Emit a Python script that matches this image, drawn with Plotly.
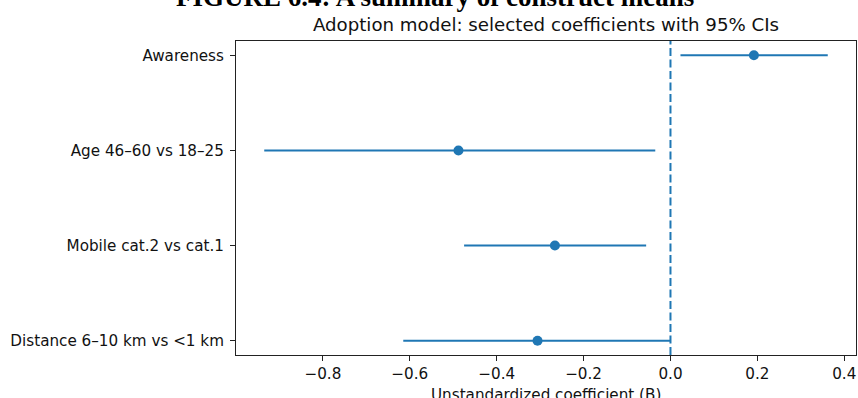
import plotly.graph_objects as go

# ---- data ----
predictors = ["Awareness", "Age 46–60 vs 18–25", "Mobile cat.2 vs cat.1", "Distance 6–10 km vs <1 km"]
coef = [0.192, -0.488, -0.266, -0.306]
ci_low = [0.023, -0.935, -0.475, -0.615]
ci_high = [0.362, -0.035, -0.056, 0.000]
x_ticks = [-0.8, -0.6, -0.4, -0.2, 0.0, 0.2, 0.4]
x_tick_labels = ["−0.8", "−0.6", "−0.4", "−0.2", "0.0", "0.2", "0.4"]

blue = "#1f77b4"
font_fam = "DejaVu Sans, Arial, sans-serif"

err_plus = [h - c for h, c in zip(ci_high, coef)]
err_minus = [c - l for c, l in zip(coef, ci_low)]

fig = go.Figure()
fig.add_trace(go.Scatter(
    x=coef, y=predictors, mode="markers",
    marker=dict(color=blue, size=10, line=dict(width=0)),
    error_x=dict(type="data", symmetric=False, array=err_plus, arrayminus=err_minus,
                 color=blue, thickness=2, width=0),
    showlegend=False, hoverinfo="skip",
))

fig.add_shape(type="line", xref="x", yref="paper", x0=0, x1=0, y0=0, y1=1,
              line=dict(color=blue, width=2, dash="8px,3.5px"), layer="above")

fig.update_layout(
    width=858, height=398,
    margin=dict(l=236, r=2, t=41, b=43, autoexpand=False),
    paper_bgcolor="white", plot_bgcolor="white",
    font=dict(family=font_fam, size=15, color="#111"),
    title=dict(text="Adoption model: selected coefficients with 95% CIs",
               font=dict(family=font_fam, size=18.2, color="#111"),
               x=(546 / 858), xanchor="center", xref="container",
               y=1 - 25 / 398, yanchor="middle", yref="container"),
    xaxis=dict(
        range=[-1.0, 0.427], tickvals=x_ticks, ticktext=x_tick_labels,
        showgrid=False, zeroline=False,
        showline=True, linecolor="#222", linewidth=1, mirror=True,
        ticks="outside", ticklen=5, tickwidth=1, tickcolor="#222",
        tickfont=dict(size=15.2, color="#111"),
    ),
    yaxis=dict(
        type="category", categoryorder="array", categoryarray=predictors,
        range=[3.15, -0.15],
        showgrid=False, zeroline=False,
        showline=True, linecolor="#222", linewidth=1, mirror=True,
        ticks="outside", ticklen=5, tickwidth=1, tickcolor="#222",
        tickfont=dict(size=15.2, color="#111"), ticklabelstandoff=3,
    ),
    annotations=[
        dict(text="<b>FIGURE 6.4: A summary of construct means</b>",
             xref="paper", yref="paper", x=(434.5 - 236) / 620, y=(355 + 3) / 314,
             xanchor="center", yanchor="middle", showarrow=False,
             font=dict(family="Liberation Serif, Times New Roman, serif", size=27, color="#000")),
        dict(text="Unstandardized coefficient (B)",
             xref="paper", yref="paper", x=0.5, y=(355 - 395) / 314,
             xanchor="center", yanchor="middle", showarrow=False,
             font=dict(family=font_fam, size=15.2, color="#111")),
    ],
)

fig.write_html("out.html", config={"displayModeBar": False},
               post_script="document.body.style.margin='0';document.body.style.overflow='hidden';")
